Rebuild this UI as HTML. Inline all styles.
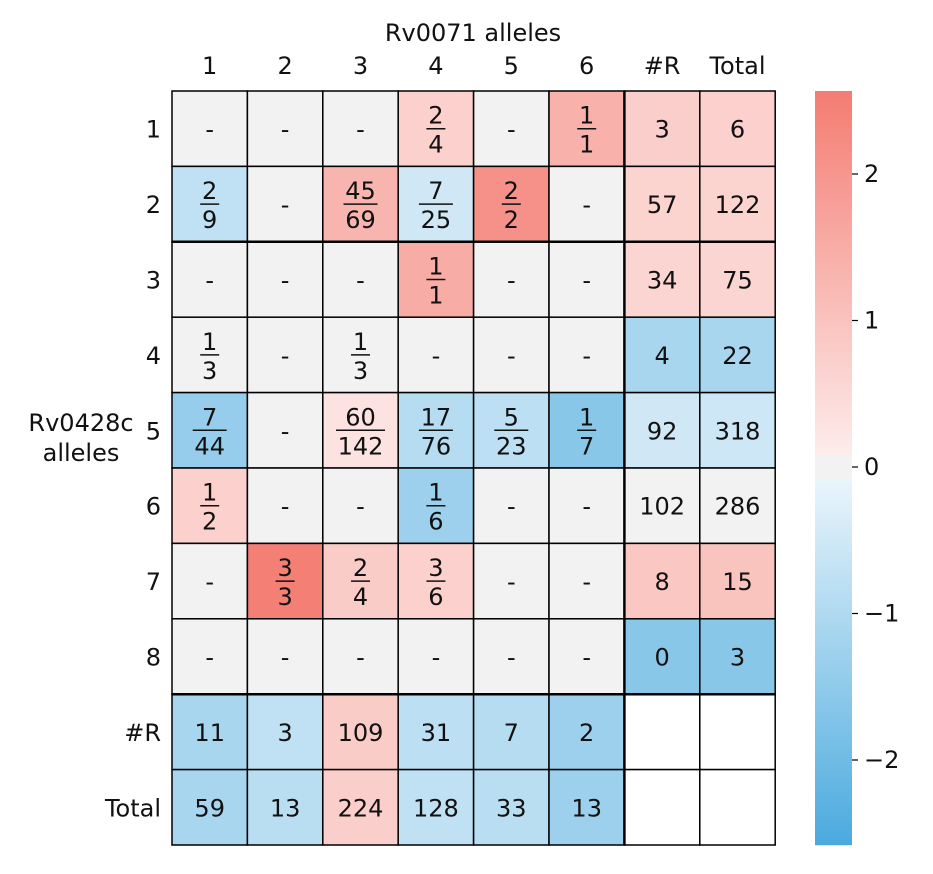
<!DOCTYPE html>
<html><head><meta charset="utf-8"><style>
body{margin:0;background:#fff;}
svg text{font-family:"DejaVu Sans","Liberation Sans",sans-serif;fill:#111;}
</style></head><body>
<svg id="c" width="933" height="869"></svg>
<script>
const colLabels=["1","2","3","4","5","6","#R","Total"];
const rowLabels=["1","2","3","4","5","6","7","8","#R","Total"];
const cellText=[
["-","-","-","2/4","-","1/1","3","6"],
["2/9","-","45/69","7/25","2/2","-","57","122"],
["-","-","-","1/1","-","-","34","75"],
["1/3","-","1/3","-","-","-","4","22"],
["7/44","-","60/142","17/76","5/23","1/7","92","318"],
["1/2","-","-","1/6","-","-","102","286"],
["-","3/3","2/4","3/6","-","-","8","15"],
["-","-","-","-","-","-","0","3"],
["11","3","109","31","7","2","",""],
["59","13","224","128","33","13","",""]];
const cellValue=[
[0,0,0,0.7,0,1.4,0.75,0.7],
[-0.75,0,1.3,-0.5,2.1,0,0.65,0.65],
[0,0,0,1.5,0,0,0.6,0.6],
[0,0,0,0,0,0,-1.1,-1.1],
[-1.4,0,0.3,-0.9,-0.8,-1.6,-0.5,-0.55],
[0.7,0,0,-1.3,0,0,0,0],
[0,2.5,0.8,0.7,0,0,0.9,1.0],
[0,0,0,0,0,0,-1.6,-1.6],
[-1.1,-0.75,0.8,-0.8,-0.9,-1.3,null,null],
[-1.1,-0.85,0.75,-0.75,-0.85,-1.3,null,null]];
const cbTicks=[2,1,0,-1,-2];
const X0=172,Y0=91,CW=75.4,CH=75.4,VMAX=2.57,VMIN=-2.58;
const CBX=815,CBW=37,CBT=91,CBB=845;
function cy(v){return 467-v*146.5;}
function mix(a,b,t){return a.map((x,i)=>Math.round(x+(b[i]-x)*t));}
function color(v){
  if(v===null)return "#ffffff";
  if(Math.abs(v)<0.08)return "#f2f2f2";
  if(v>0){return "rgb("+mix([253,240,239],[244,124,114],Math.min(1,v/VMAX)).join(",")+")";}
  return "rgb("+mix([240,247,252],[74,170,222],Math.min(1,-v/-VMIN)).join(",")+")";
}
const svg=document.getElementById('c');const NS="http://www.w3.org/2000/svg";
function el(t,a,p){const e=document.createElementNS(NS,t);for(const k in a)e.setAttribute(k,a[k]);(p||svg).appendChild(e);return e;}
function txt(s,x,y,size,anchor,p){const e=el('text',{x:x,y:y,'font-size':size,'text-anchor':anchor||'middle'},p);e.textContent=s;return e;}
for(let r=0;r<rowLabels.length;r++){for(let c=0;c<colLabels.length;c++){
  const g=el('g',{});
  
  
  const x=X0+c*CW,y=Y0+r*CH;
  el('rect',{x:x,y:y,width:CW,height:CH,fill:color(cellValue[r][c]),stroke:'#000','stroke-width':1.5},g);
  const s=cellText[r][c];const cx=x+CW/2,cyy=y+CH/2;
  if(s.includes('/')){const [n,d]=s.split('/');
    txt(n,cx,cyy-5,24,'middle',g);txt(d,cx,cyy+24,24,'middle',g);
    const w=Math.max(n.length,d.length)*15+4;
    el('line',{x1:cx-w/2,x2:cx+w/2,y1:cyy,y2:cyy,stroke:'#111','stroke-width':1.5},g);
  } else if(s) txt(s,cx,cyy+9,24,'middle',g);
}}
[[X0,Y0+2*CH,X0+8*CW,Y0+2*CH],[X0,Y0+8*CH,X0+8*CW,Y0+8*CH],[X0+6*CW,Y0,X0+6*CW,Y0+10*CH]].forEach(l=>el('line',{x1:l[0],y1:l[1],x2:l[2],y2:l[3],stroke:'#000','stroke-width':2.5}));
colLabels.forEach((s,i)=>{const t=txt(s,X0+i*CW+CW/2,74,24);});
rowLabels.forEach((s,i)=>{const t=txt(s,161,Y0+i*CH+CH/2+9,24,'end');});
const xt=txt("Rv0071 alleles",473,41,24);
const yt1=txt("Rv0428c",81,431,24);
txt("alleles",81,461,24);
const cb=el('g',{});
for(let y=CBT;y<CBB;y++){const v=(467-(y+0.5))/146.5;el('rect',{x:CBX,y:y,width:CBW,height:1.2,fill:color(v)},cb);}
cbTicks.forEach(v=>{const y=cy(v);el('line',{x1:CBX+CBW,x2:CBX+CBW+6,y1:y,y2:y,stroke:'#000','stroke-width':1.2},cb);
 txt(v<0?'\u2212'+(-v):String(v),CBX+CBW+12,y+8,24,'start',cb);});
</script>
</body></html>
